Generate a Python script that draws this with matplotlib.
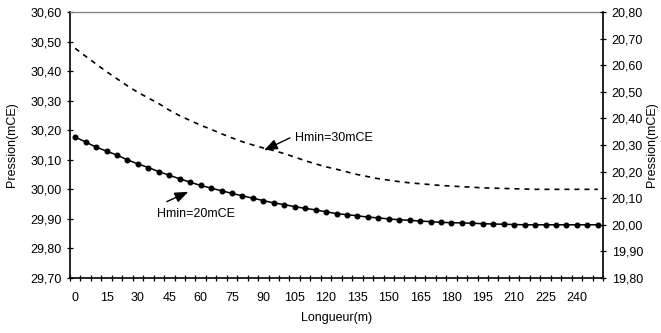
import numpy as np
import matplotlib
matplotlib.use("Agg")
from matplotlib import pyplot as plt
from matplotlib.ticker import FuncFormatter, MultipleLocator

# longueur le long de la conduite (m)
longueur = [0, 5, 10, 15, 20, 25, 30, 35, 40, 45, 50, 55, 60, 65, 70, 75, 80,
            85, 90, 95, 100, 105, 110, 115, 120, 125, 130, 135, 140, 145, 150,
            155, 160, 165, 170, 175, 180, 185, 190, 195, 200, 205, 210, 215,
            220, 225, 230, 235, 240, 245, 250]

# Hmin = 30 mCE (axe gauche)
pression_30 = [30.477, 30.450, 30.424, 30.398, 30.374, 30.350, 30.328, 30.309,
               30.290, 30.268, 30.249, 30.233, 30.217, 30.203, 30.188, 30.174,
               30.161, 30.150, 30.140, 30.131, 30.121, 30.109, 30.097, 30.086,
               30.076, 30.068, 30.059, 30.050, 30.043, 30.036, 30.031, 30.026,
               30.022, 30.019, 30.016, 30.013, 30.011, 30.009, 30.007, 30.005,
               30.004, 30.003, 30.002, 30.001, 30.000, 30.000, 30.000, 30.000,
               30.000, 30.000, 30.000]

# Hmin = 20 mCE (axe droit)
pression_20 = [20.330, 20.311, 20.292, 20.277, 20.262, 20.244, 20.229, 20.215,
               20.200, 20.186, 20.173, 20.160, 20.148, 20.138, 20.128, 20.118,
               20.109, 20.100, 20.091, 20.082, 20.076, 20.068, 20.062, 20.056,
               20.049, 20.042, 20.038, 20.034, 20.029, 20.026, 20.022, 20.019,
               20.017, 20.014, 20.012, 20.009, 20.008, 20.007, 20.006, 20.004,
               20.003, 20.002, 20.001, 20.000, 20.000, 20.000, 20.000, 20.000,
               20.000, 20.000, 20.000]

x_labels = [0, 15, 30, 45, 60, 75, 90, 105, 120, 135, 150, 165, 180, 195, 210,
            225, 240]

plt.rcParams['font.family'] = ['Liberation Sans', 'DejaVu Sans']
plt.rcParams['font.size'] = 9


def virgule(v, pos):
    return f"{v:.2f}".replace('.', ',')


fig = plt.figure(figsize=(6.61, 3.33), dpi=100)
ax = fig.add_axes([70 / 661, 1 - 278 / 333, 533 / 661, 266 / 333])
ax2 = ax.twinx()

ax.plot(longueur, pression_30, color='black', lw=1.2, linestyle=(0, (3, 3)))
ax2.plot(longueur, pression_20, color='black', lw=1.1, marker='o', ms=3.3)

ax.set_xlim(-2.5, 252.5)
ax.set_ylim(29.70, 30.60)
ax2.set_ylim(19.80, 20.80)

# axe x : categories de 5 m, etiquettes toutes les 15 m
ax.set_xticks(x_labels)
ax.set_xticklabels([str(v) for v in x_labels])
ax.set_xticks(np.arange(-2.5, 253, 5), minor=True)
ax.tick_params(axis='x', which='major', length=0, pad=10)
ax.tick_params(axis='x', which='minor', direction='inout', length=4.5, width=0.9)

for a in (ax, ax2):
    a.yaxis.set_major_locator(MultipleLocator(0.1))
    a.yaxis.set_major_formatter(FuncFormatter(virgule))
    a.tick_params(axis='y', direction='inout', length=4.5, width=0.9, pad=4)

for s in ('top', 'left', 'bottom', 'right'):
    ax2.spines[s].set_visible(s == 'right')
ax.spines['right'].set_visible(False)
ax.spines['top'].set_color('#808080')
ax.spines['top'].set_linewidth(0.9)
ax.spines['left'].set_linewidth(1.2)
ax.spines['bottom'].set_linewidth(1.2)
ax2.spines['right'].set_linewidth(1.2)

ax.set_ylabel('Pression(mCE)')
ax.yaxis.set_label_coords(-0.0976, 0.5)
ax2.set_ylabel('Pression(mCE)')
ax2.yaxis.set_label_coords(1.0807, 0.5)
ax.set_xlabel('Longueur(m)')
ax.xaxis.set_label_coords(0.5, -0.128)

fleche = dict(arrowstyle='-|>,head_length=0.9,head_width=0.35', color='black',
              lw=1.0, shrinkA=0, shrinkB=0)
ax.annotate('', xy=(90.3, 30.132), xytext=(102.7, 30.174), arrowprops=fleche)
ax.text(105.1, 30.172, 'Hmin=30mCE', ha='left', va='center')
ax2.annotate('', xy=(54.1, 20.124), xytext=(43.8, 20.087), arrowprops=fleche)
ax2.text(39.0, 20.041, 'Hmin=20mCE', ha='left', va='center')

fig.savefig('out.png', dpi=100)
